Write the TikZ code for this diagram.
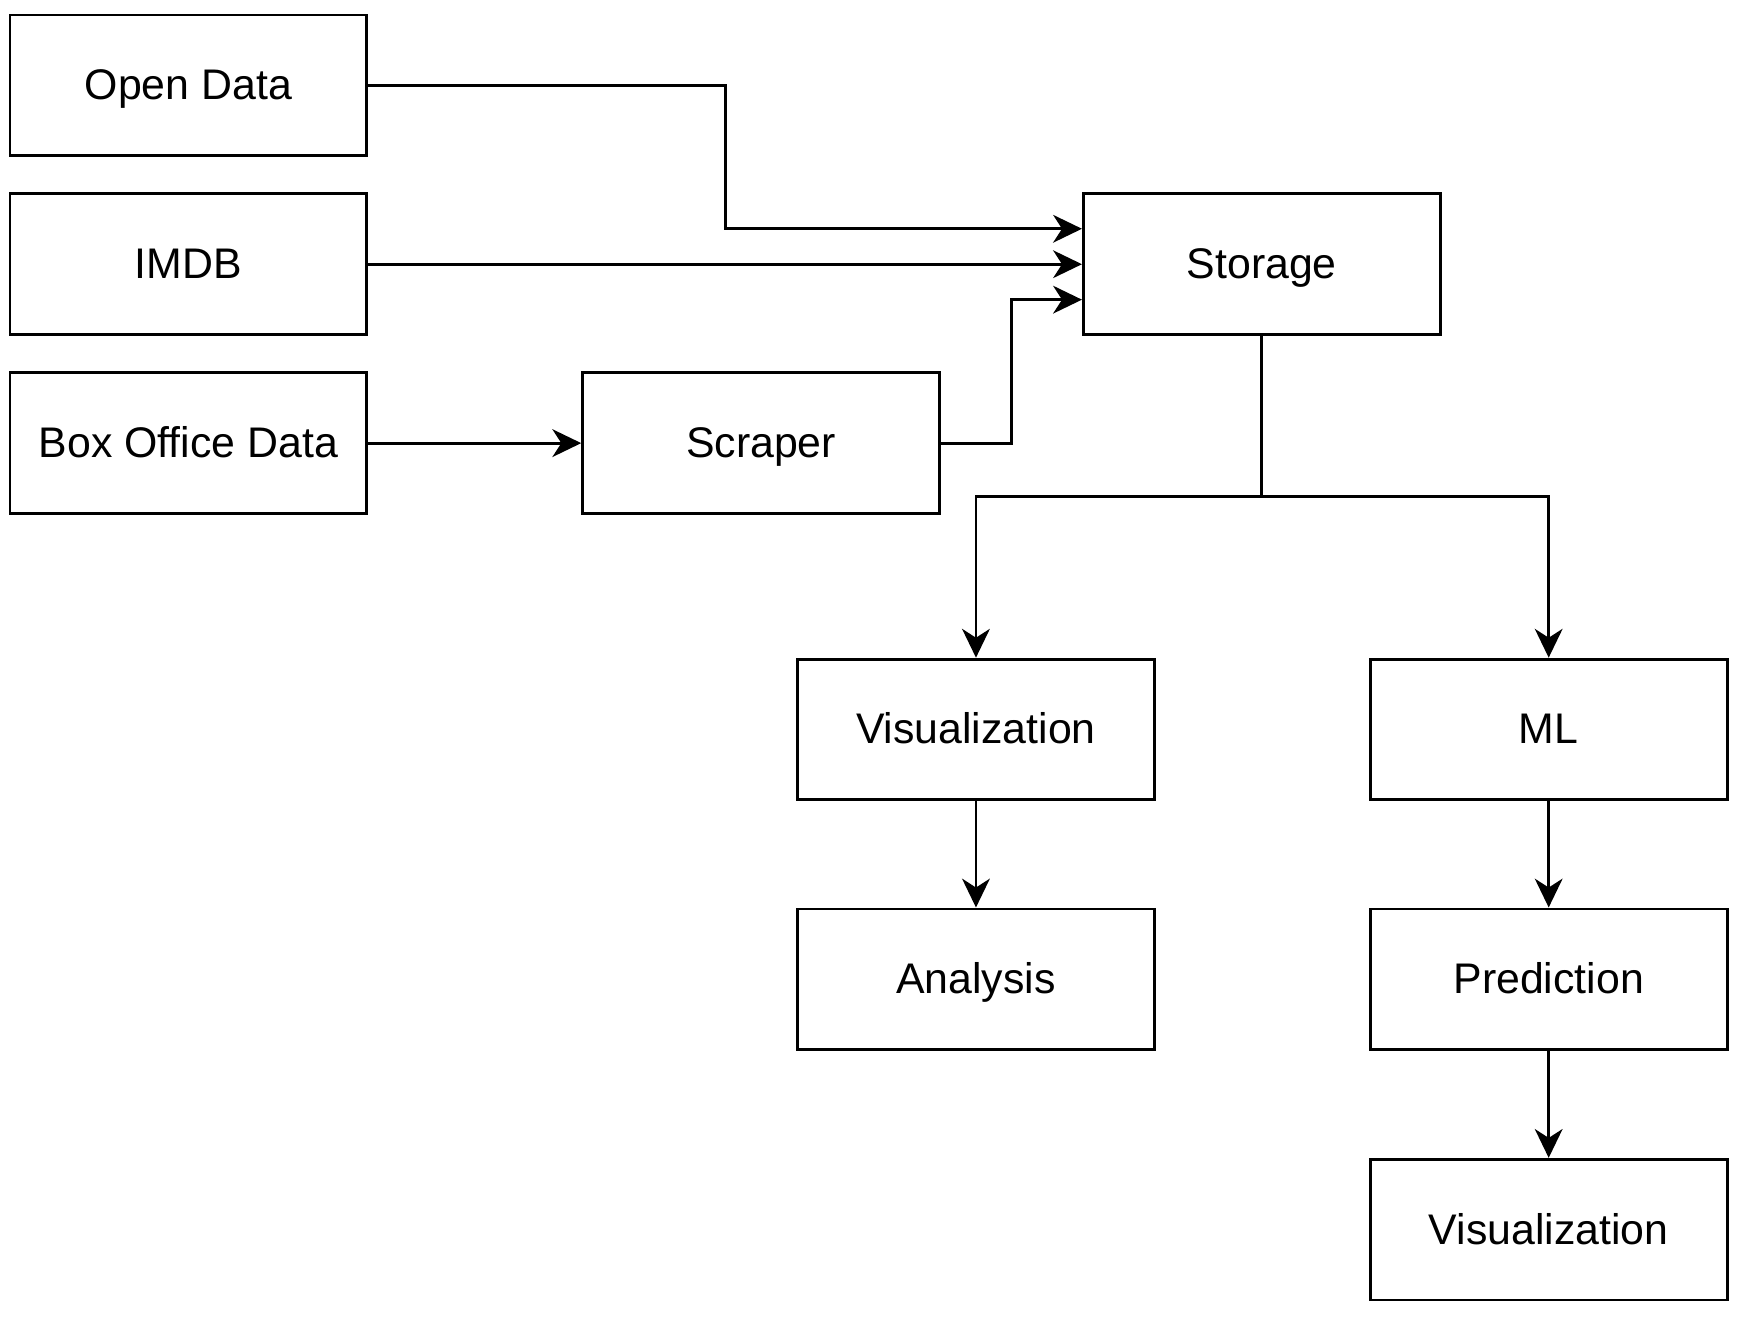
\documentclass[tikz,border=0pt]{standalone}
\usepackage{fontspec}
\setmainfont{Liberation Sans}
\usetikzlibrary{arrows.meta}

\begin{document}
\begin{tikzpicture}[line width=0.75pt]
\tikzstyle{every node}=[draw, rectangle, minimum width=3.22cm, minimum height=1.27cm, inner sep=1pt, text height=1.6ex, text depth=0.2ex, font=\fontsize{11}{13}\selectfont]
\tikzstyle{flow}=[-{Stealth[length=2.6mm, width=2.5mm, inset=0.8mm]}]
\useasboundingbox (0,0) rectangle (15.68,-11.94);
\draw (1.70,-0.77) node (open) {Open Data};
\draw (1.70,-2.385) node (imdb) {IMDB};
\draw (1.70,-4.00) node (boxoffice) {Box Office Data};
\draw (6.87,-4.00) node (scraper) {Scraper};
\draw (11.39,-2.385) node (storage) {Storage};
\draw (8.81,-6.585) node (vis) {Visualization};
\draw (13.98,-6.585) node (ml) {ML};
\draw (8.81,-8.84) node (analysis) {Analysis};
\draw (13.98,-8.84) node (pred) {Prediction};
\draw (13.98,-11.10) node (vispred) {Visualization};
\coordinate (openbend) at (6.55,-0.77);
\coordinate (scrbend) at (9.13,-4.00);
\coordinate (split) at (11.39,-4.48);
\draw[flow] (open.east) -- (openbend) |- ([yshift=3.2mm]storage.west);
\draw[flow] (imdb) -- (storage);
\draw[flow] (boxoffice) -- (scraper);
\draw[flow] (scraper.east) -- (scrbend) |- ([yshift=-3.2mm]storage.west);
\draw (storage.south) -- (split);
\draw[flow] (split) -| (vis.north);
\draw[flow] (split) -| (ml.north);
\draw[flow] (vis) -- (analysis);
\draw[flow] (ml) -- (pred);
\draw[flow] (pred) -- (vispred);
\end{tikzpicture}
\end{document}
